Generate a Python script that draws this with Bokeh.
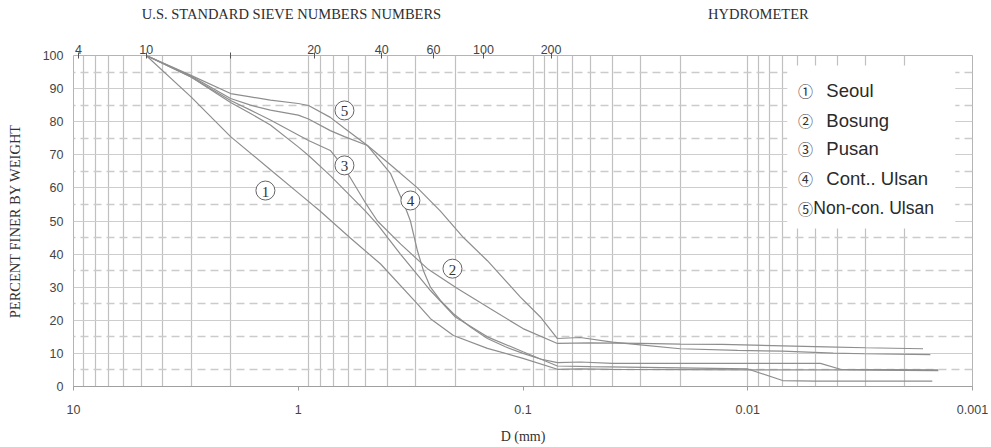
from bokeh.plotting import figure
from bokeh.layouts import column
from bokeh.models import (Range1d, FixedTicker, LogAxis, CustomJSTickFormatter,
                          Label, BoxAnnotation, ColumnDataSource)
from bokeh.core.properties import value
from bokeh.embed import file_html
from bokeh.resources import INLINE

# ---------------- data ----------------
seoul_d = [4.75, 3.0, 2.0, 1.33, 1.0, 0.8, 0.59, 0.43, 0.30, 0.258, 0.204, 0.144, 0.10,
           0.0703, 0.0556, 0.04, 0.02, 0.01, 0.004, 0.00142]
seoul_p = [100, 87.5, 75.5, 65.5, 58.5, 53, 45, 37, 25.5, 20.5, 15.4, 11.5, 8.5,
           5.2, 5.3, 5.2, 5.1, 5.0, 5.0, 4.8]

bosung_d = [4.75, 3.0, 2.0, 1.63, 1.33, 1.0, 0.9, 0.72, 0.623, 0.5025, 0.4444, 0.35, 0.2662,
            0.1958, 0.1396, 0.1, 0.0703, 0.05, 0.03, 0.02, 0.013, 0.007, 0.0045, 0.003, 0.00166]
bosung_p = [100, 93.5, 86.4, 83.5, 80.5, 76, 74.3, 71.3, 66, 55.5, 50, 43, 35.6,
            29.6, 23.5, 17.5, 13, 13.2, 13, 12.8, 12.7, 12.3, 12, 11.7, 11.4]

pusan_d = [4.75, 3.0, 2.0, 1.63, 1.33, 1.0, 0.9, 0.72, 0.5025, 0.4444, 0.3511, 0.2581, 0.2,
           0.144, 0.1, 0.0703, 0.05, 0.02, 0.01, 0.007, 0.005, 0.00151]
pusan_p = [100, 93.5, 85.8, 82.5, 79, 72.4, 69.8, 63.7, 53, 49, 40, 29, 21,
           15, 10.5, 6.2, 6, 5.6, 5.3, 1.8, 1.6, 1.6]

cont_d = [4.75, 3.0, 2.0, 1.63, 1.33, 1.0, 0.9, 0.72, 0.623, 0.492, 0.3889, 0.2949, 0.233,
          0.1841, 0.144, 0.1027, 0.0837, 0.0703, 0.0556, 0.04, 0.03, 0.02, 0.0111, 0.00702,
          0.00416, 0.00303, 0.00154]
cont_p = [100, 93.8, 87, 85, 83.5, 82, 80.8, 77.3, 75.5, 72.8, 67, 60, 53,
          45, 38, 27, 21, 14.5, 14.8, 13.4, 12.6, 11.4, 10.9, 10.7,
          10.1, 9.9, 9.6]

noncon_d = [4.75, 3.0, 2.0, 1.63, 1.33, 1.0, 0.9, 0.72, 0.623, 0.492, 0.3889, 0.3335, 0.3169,
            0.2949, 0.2773, 0.2581, 0.233, 0.204, 0.1714, 0.144, 0.1198, 0.1, 0.0837, 0.0703,
            0.0556, 0.04, 0.01, 0.00475, 0.00387, 0.00142]
noncon_p = [100, 94, 88.5, 87.5, 86.5, 85.5, 84.9, 81.3, 78, 72.8, 64.4, 54, 50,
            41, 35, 30, 26, 22, 18, 14.5, 12, 10, 8.3, 7.2,
            7.4, 7, 7, 7, 5.2, 5.0]

legend_marks = ["\u2460", "\u2461", "\u2462", "\u2463", "\u2464"]
legend_names = ["Seoul", "Bosung", "Pusan", "Cont.. Ulsan", "Non-con. Ulsan"]

curve_tags = ["1", "2", "3", "4", "5"]
tag_d = [1.40, 0.206, 0.623, 0.317, 0.623]
tag_p = [59.2, 35.6, 66.8, 56.2, 83.4]

sieve_labels = ["4", "10", "", "20", "40", "60", "100", "200"]
sieve_d = [9.5, 4.75, 2.0, 0.85, 0.425, 0.25, 0.15, 0.075]

header_texts = ["U.S. STANDARD SIEVE NUMBERS NUMBERS", "HYDROMETER"]
header_d = [1.072, 0.00897]

x_ticks = [10, 1, 0.1, 0.01, 0.001]
y_ticks = [0, 10, 20, 30, 40, 50, 60, 70, 80, 90, 100]
y_minor = [5, 15, 25, 35, 45, 55, 65, 75, 85, 95]
x_grid = [9, 8, 7, 6, 5, 4, 3, 2,
          0.9, 0.8, 0.7, 0.6, 0.5, 0.4, 0.3, 0.2,
          0.09, 0.08, 0.07, 0.06, 0.05, 0.04, 0.03, 0.02,
          0.01, 0.009, 0.008, 0.007, 0.006, 0.005, 0.004, 0.003, 0.002]

# ---------------- figure ----------------
SERIF = "Liberation Serif"
SANS = "Liberation Sans"
HEAD_H = 26

xr = Range1d(10, 0.001)

# header strip (holds the two titles above the chart)
hf = figure(width=991, height=HEAD_H, x_axis_type="log", x_range=xr, y_range=Range1d(0, 1),
            output_backend="svg", toolbar_location=None,
            min_border_left=73, min_border_right=19, min_border_top=0, min_border_bottom=0)
hf.xaxis.visible = False
hf.yaxis.visible = False
hf.grid.visible = False
hf.outline_line_color = None
hf.text(x=header_d, y=[0.5, 0.5], text=header_texts, text_align="center",
        text_baseline="middle", text_font=value(SERIF), text_font_size="14.5px",
        text_color="#2e2e2e")

p = figure(width=991, height=447 - HEAD_H, x_axis_type="log",
           x_range=xr, y_range=Range1d(0, 100),
           output_backend="svg", toolbar_location=None,
           min_border_left=73, min_border_right=19, min_border_top=55 - HEAD_H,
           min_border_bottom=61)
p.outline_line_color = "#b4b4b4"
p.background_fill_color = "white"
p.border_fill_color = "white"

# grids
p.xgrid.ticker = FixedTicker(ticks=x_grid)
p.xgrid.grid_line_color = "#c0c0c0"
p.xgrid.grid_line_width = 1.2
p.ygrid.ticker = FixedTicker(ticks=y_ticks, minor_ticks=y_minor)
p.ygrid.grid_line_color = "#cdcdcd"
p.ygrid.grid_line_width = 1.2
p.ygrid.minor_grid_line_color = "#cbcbcb"
p.ygrid.minor_grid_line_width = 1.5
p.ygrid.minor_grid_line_dash = "8 5"

# bottom axis
xa = p.xaxis[0]
xa.ticker = FixedTicker(ticks=x_ticks)
xa.formatter = CustomJSTickFormatter(code="return String(tick);")
xa.axis_line_color = "#a0a0a0"
xa.major_tick_line_color = "#a0a0a0"
xa.major_tick_out = 4
xa.major_tick_in = 0
xa.minor_tick_line_color = None
xa.major_label_standoff = 14
xa.major_label_text_font = SANS
xa.major_label_text_font_size = "12.5px"
xa.major_label_text_color = "#444444"
xa.axis_label = "D (mm)"
xa.axis_label_text_font = SERIF
xa.axis_label_text_font_size = "14px"
xa.axis_label_text_font_style = "normal"
xa.axis_label_text_color = "#333333"
xa.axis_label_standoff = 12

# left axis
ya = p.yaxis[0]
ya.ticker = FixedTicker(ticks=y_ticks)
ya.axis_line_color = None
ya.major_tick_out = 0
ya.major_tick_in = 0
ya.minor_tick_line_color = None
ya.major_label_standoff = 10
ya.major_label_text_font = SANS
ya.major_label_text_font_size = "12.5px"
ya.major_label_text_color = "#444444"
ya.axis_label = "PERCENT FINER BY WEIGHT"
ya.axis_label_text_font = SERIF
ya.axis_label_text_font_size = "14.5px"
ya.axis_label_text_font_style = "normal"
ya.axis_label_text_color = "#333333"
ya.axis_label_standoff = 17

# top sieve axis
top = LogAxis(ticker=FixedTicker(ticks=sieve_d),
              formatter=CustomJSTickFormatter(
                  args=dict(t=sieve_d, l=sieve_labels),
                  code="""for (let i = 0; i < t.length; i++) {
                              if (Math.abs(Math.log10(tick) - Math.log10(t[i])) < 1e-6) return l[i];
                          }
                          return '';"""))
top.axis_line_color = None
top.major_tick_line_color = "#555555"
top.major_tick_in = 3
top.major_tick_out = 3
top.minor_tick_line_color = None
top.major_label_standoff = -1
top.major_label_text_font = SANS
top.major_label_text_font_size = "12.5px"
top.major_label_text_color = "#444444"
p.add_layout(top, "above")

# curves
curve_color = "#8e8e8e"
for d, pc in [(seoul_d, seoul_p), (bosung_d, bosung_p), (pusan_d, pusan_p),
              (cont_d, cont_p), (noncon_d, noncon_p)]:
    p.line(d, pc, line_color=curve_color, line_width=1.2)

# curve tags (circled numbers)
tag_src = ColumnDataSource(dict(x=tag_d, y=tag_p, t=curve_tags))
p.scatter("x", "y", source=tag_src, marker="circle", size=19,
          fill_color="white", line_color="#666666", line_width=1)
p.text("x", "y", text="t", source=tag_src, text_align="center", text_baseline="middle",
       text_font=value(SERIF), text_font_size="15px", text_color="#333333", y_offset=1)

# legend box
p.add_layout(BoxAnnotation(left=0.00667, right=0.001193, top=97, bottom=47.7,
                           fill_color="white", fill_alpha=1.0, line_color=None))
leg_p = [89.4, 80.4, 71.9, 62.8, 53.8]
for i, (mk, nm, yy) in enumerate(zip(legend_marks, legend_names, leg_p)):
    p.add_layout(Label(x=0.00598, y=yy, text=mk, text_baseline="middle", text_align="left",
                       text_font="Noto Sans CJK KR", text_font_size="15px",
                       text_color="#333333"))
    p.add_layout(Label(x=0.00447 if i < 4 else 0.00511, y=yy, text=nm,
                       text_baseline="middle", text_align="left",
                       text_font=SANS, text_font_size="18.5px" if i < 4 else "17.5px",
                       text_color="#2a2a2a"))

open("out.html", "w").write(file_html(column(hf, p, spacing=0), INLINE))
